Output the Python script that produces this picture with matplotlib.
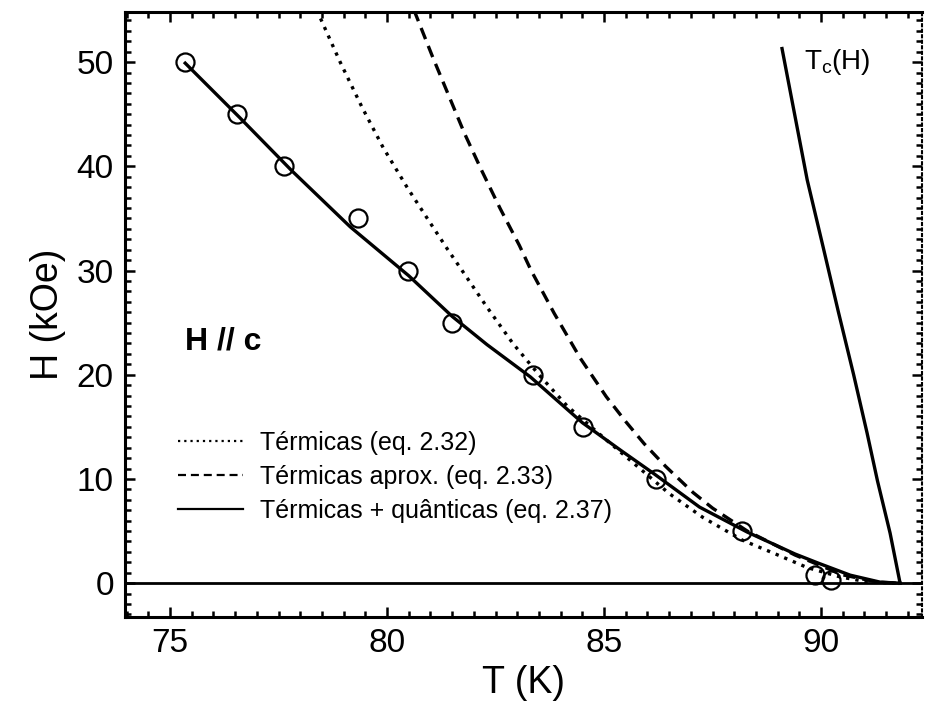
import matplotlib
matplotlib.use("Agg")
import matplotlib.pyplot as plt
from matplotlib.ticker import MultipleLocator

plt.rcParams['font.family'] = ['Liberation Sans', 'DejaVu Sans']
plt.rcParams['mathtext.default'] = 'regular'

# ----------------- data -----------------
T_exp = [75.35, 76.55, 77.63, 79.33, 80.48, 81.5, 83.36, 84.52, 86.2, 88.18, 89.86, 90.22]
H_exp = [50, 45, 40, 35, 30, 25, 20, 15, 10, 5, 0.8, 0.3]

# Térmicas (eq. 2.32) - dotted
T_term = [78.38, 78.92, 79.42, 79.91, 80.46, 80.99, 81.4, 81.68, 82.3, 82.9, 83.5,
          84.15, 84.98, 85.6, 86.5, 87.28, 88.2, 88.95, 89.68, 90.44, 91.1, 91.8]
H_term = [55.0, 50.0, 45.7, 41.8, 38.0, 34.6, 32.0, 30.3, 26.5, 23.0, 20.0,
          17.0, 14.0, 11.8, 8.6, 6.3, 4.1, 2.8, 1.5, 0.6, 0.1, 0.0]

# Térmicas aprox. (eq. 2.33) - dashed
T_aprox = [80.62, 81.05, 81.4, 81.78, 82.18, 82.6, 83.05, 83.32, 83.85, 84.45, 85.05,
           85.5, 85.92, 86.42, 87.05, 87.5, 88.3, 89.4, 90.5, 91.3, 91.8]
H_aprox = [55.0, 50.5, 47.0, 43.2, 39.6, 36.0, 32.4, 30.0, 25.9, 21.6, 17.9,
           15.5, 13.4, 11.2, 8.7, 7.2, 5.0, 2.7, 0.8, 0.1, 0.0]

# Térmicas + quânticas (eq. 2.37) - solid
T_quant = [75.35, 76.6, 77.8, 79.15, 80.5, 81.5, 82.3, 83.3, 84.5, 85.4, 86.15,
           87.2, 88.3, 89.4, 89.95, 90.67, 91.36, 91.82]
H_quant = [49.9, 44.7, 39.6, 34.2, 29.5, 25.6, 22.9, 19.8, 15.4, 12.7, 10.5,
           7.3, 4.9, 2.8, 1.9, 0.77, 0.1, 0.0]

# Tc(H)
T_tc = [91.82, 91.59, 91.3, 91.06, 90.75, 90.4, 90.05, 89.68, 89.1]
H_tc = [0.0, 4.8, 9.8, 14.4, 20.0, 26.0, 32.2, 38.7, 51.3]

# ----------------- figure -----------------
fig = plt.figure(figsize=(9.25, 7.11), dpi=100)
ax = fig.add_axes([0.135, 0.132, 0.862, 0.851])

ax.axhline(0, color='black', lw=2.0)
ax.plot(T_term, H_term, color='black', lw=2.4, linestyle=(0, (1, 1.8)),
        label='Térmicas (eq. 2.32)')
ax.plot(T_aprox, H_aprox, color='black', lw=2.4, linestyle=(0, (3.6, 2.2)),
        label='Térmicas aprox. (eq. 2.33)')
ax.plot(T_quant, H_quant, color='black', lw=2.4, label='Térmicas + quânticas (eq. 2.37)')
ax.plot(T_tc, H_tc, color='black', lw=2.4)
ax.plot(T_exp, H_exp, 'o', mfc='none', mec='black', ms=13, mew=1.6)

ax.set_xlim(73.96, 92.33)
ax.set_ylim(-3.26, 54.8)

ax.xaxis.set_major_locator(MultipleLocator(5))
ax.xaxis.set_minor_locator(MultipleLocator(0.5))
ax.yaxis.set_major_locator(MultipleLocator(10))
ax.yaxis.set_minor_locator(MultipleLocator(1))
ax.tick_params(which='both', direction='in', top=True, right=True, width=1.8)
ax.tick_params(which='major', length=7, labelsize=24, pad=8)
ax.tick_params(which='minor', length=4)
for side in ['left', 'bottom', 'top']:
    ax.spines[side].set_linewidth(2.2)
ax.spines['right'].set_linewidth(1.5)
ax.spines['right'].set_linestyle(':')

ax.set_xlabel('T (K)', fontsize=27, labelpad=4)
ax.set_ylabel('H (kOe)', fontsize=27, labelpad=8)

ax.text(75.35, 23.2, 'H // c', fontsize=23, fontweight='bold', va='center', ha='left')
ax.text(89.6, 50.0, 'T$_c$(H)', fontsize=20, va='center', ha='left')

leg = ax.legend(loc='center left', bbox_to_anchor=(0.0665, 0.232), frameon=False,
                fontsize=18, handlelength=2.6, handletextpad=0.7,
                labelspacing=0.4, borderpad=0, borderaxespad=0)
for line in leg.get_lines():
    line.set_linewidth(1.6)

fig.savefig('out.png', dpi=100)
